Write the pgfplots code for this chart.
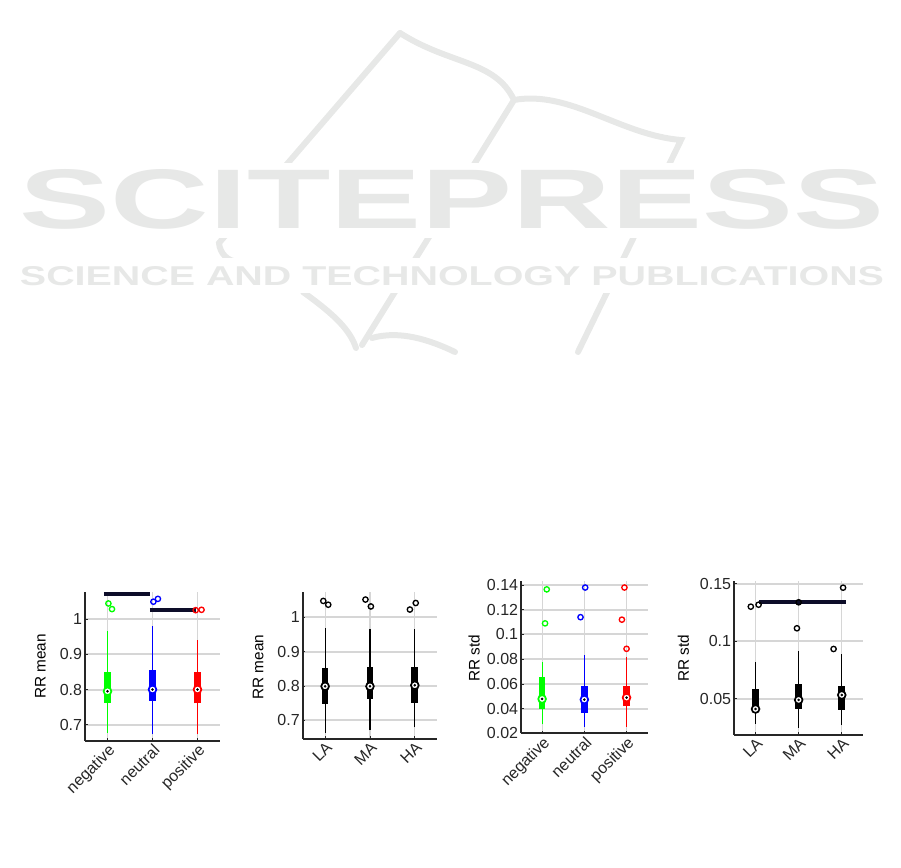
\documentclass[border=0pt]{standalone}
\usepackage{graphicx}
\usepackage{fontspec}
\setmainfont{Liberation Sans}
\usepackage{pgfplots}
\pgfplotsset{compat=1.18}
\definecolor{wm}{rgb}{0.905,0.91,0.905}
\definecolor{sig}{rgb}{0.05,0.05,0.16}
\definecolor{axc}{rgb}{0.15,0.15,0.15}
\definecolor{grd}{rgb}{0.84,0.84,0.84}

% whisker + box
\newcommand{\bx}[6]{%
  \addplot[#1, line width=0.9pt] coordinates {(#2,#3) (#2,#6)};
  \addplot[#1, line width=5pt] coordinates {(#2,#4) (#2,#5)};
}
% median marker
\newcommand{\md}[3]{%
  \addplot[only marks, mark=*, mark size=2.9pt, mark options={fill=white, draw=#1, line width=1.3pt}] coordinates {(#2,#3)};
  \addplot[only marks, mark=*, mark size=0.75pt, black] coordinates {(#2,#3)};
}
\pgfplotsset{
  bp/.style={
    scale only axis,
    anchor=south west,
    clip=false,
    axis lines=left,
    axis line style={-, line width=1.4pt, axc},
    xmin=0.5, xmax=3.5,
    xtick={1,2,3},
    xmajorgrids, ymajorgrids,
    x grid style={grd, line width=0.9pt},
    y grid style={grd, line width=1.5pt},
    tick align=inside,
    major tick length=2pt,
    tick style={axc, line width=0.6pt},
    scaled y ticks=false,
    ticklabel style={font=\fontsize{12pt}{14pt}\selectfont, text=axc},
    xticklabel style={rotate=45, anchor=north east, inner sep=1pt},
    yticklabel style={inner xsep=2pt},
    label style={font=\fontsize{11.5pt}{13pt}\selectfont, text=black},
    /pgf/number format/assume math mode=true,
  }
}
\begin{document}
\begin{tikzpicture}
\useasboundingbox (0,0) rectangle (675.75pt,651pt);
% ---- watermark ----
\begin{scope}[shift={(0pt,651pt)}, x=0.75pt, y=-0.75pt, line width=4.5pt, wm, line cap=round]
  \draw (400,33) -- (219,243) to[bend right=40] (238,262);
  \draw (400,33) .. controls (450,65) and (495,60) .. (514,100)
        .. controls (570,90) and (620,135) .. (681,140) -- (578,352);
  \draw (514,100) -- (362,345);
  \draw (303,292) .. controls (335,315) and (350,330) .. (356,348);
  \draw (372,338) .. controls (400,330) and (430,340) .. (455,352);
  \fill[white] (0,163) rectangle (901,238);
  \fill[white] (0,258) rectangle (901,293);
  \node[inner sep=0pt, text=wm] at (452,199.5) {\resizebox{648pt}{44.25pt}{\bfseries SCITEPRESS}};
  \node[inner sep=0pt, text=wm] at (452,276.5) {\resizebox{648pt}{14.25pt}{\bfseries SCIENCE AND TECHNOLOGY PUBLICATIONS}};
\end{scope}

% ---- Panel 1 ----
\begin{axis}[bp, at={(63.75pt,95.25pt)}, width=101.25pt, height=111.75pt,
  ymin=0.654, ymax=1.0765,
  ytick={0.7,0.8,0.9,1}, yticklabels={0.7,0.8,0.9,1},
  xticklabels={negative,neutral,positive},
  ylabel={RR mean},
  ylabel style={at={(axis description cs:-0.33,0.5)}, anchor=center, rotate=0}]
  \bx{green}{1}{0.677}{0.763}{0.849}{0.966}
  \bx{blue}{2}{0.673}{0.768}{0.856}{0.980}
  \bx{red}{3}{0.673}{0.761}{0.850}{0.940}
  \md{green}{1}{0.795}
  \md{blue}{2}{0.800}
  \md{red}{3}{0.800}
  \addplot[only marks, mark=o, mark size=2pt, green, line width=1pt] coordinates {(1.02,1.044) (1.10,1.028)};
  \addplot[only marks, mark=o, mark size=2pt, blue, line width=1pt] coordinates {(2.02,1.049) (2.12,1.057)};
  \addplot[only marks, mark=o, mark size=2pt, red, line width=1pt] coordinates {(2.96,1.025) (3.09,1.026)};
  \addplot[sig, line width=2.8pt] coordinates {(0.92,1.071) (1.94,1.071)};
  \addplot[sig, line width=2.8pt] coordinates {(1.94,1.025) (2.96,1.025)};
\end{axis}

% ---- Panel 2 ----
\begin{axis}[bp, at={(227pt,96.75pt)}, width=100.95pt, height=110pt,
  ymin=0.646, ymax=1.072,
  ytick={0.7,0.8,0.9,1}, yticklabels={0.7,0.8,0.9,1},
  xticklabels={LA,MA,HA},
  ylabel={RR mean},
  ylabel style={at={(axis description cs:-0.33,0.49)}, anchor=center, rotate=0}]
  \bx{black}{1}{0.663}{0.748}{0.851}{0.968}
  \bx{black}{2}{0.672}{0.763}{0.855}{0.965}
  \bx{black}{3}{0.680}{0.751}{0.855}{0.965}
  \md{black}{1}{0.799}
  \md{black}{2}{0.799}
  \md{black}{3}{0.802}
  \addplot[only marks, mark=o, mark size=2pt, black, line width=1pt] coordinates {(0.96,1.047) (1.07,1.036) (1.90,1.051) (2.02,1.031) (2.89,1.022) (3.02,1.041)};
\end{axis}

% ---- Panel 3 ----
\begin{axis}[bp, at={(390.75pt,101pt)}, width=95pt, height=114.45pt,
  ymin=0.02, ymax=0.1435,
  ytick={0.02,0.04,0.06,0.08,0.1,0.12,0.14},
  yticklabels={0.02,0.04,0.06,0.08,0.1,0.12,0.14},
  xticklabels={negative,neutral,positive},
  ylabel={RR std},
  ylabel style={at={(axis description cs:-0.37,0.49)}, anchor=center, rotate=0}]
  \bx{green}{1}{0.0273}{0.0400}{0.0654}{0.0776}
  \bx{blue}{2}{0.0254}{0.0367}{0.0584}{0.0835}
  \bx{red}{3}{0.0254}{0.0421}{0.0584}{0.0817}
  \md{green}{1}{0.0478}
  \md{blue}{2}{0.0473}
  \md{red}{3}{0.0489}
  \addplot[only marks, mark=o, mark size=2pt, green, line width=1pt] coordinates {(1.11,0.1365) (1.07,0.109)};
  \addplot[only marks, mark=o, mark size=2pt, blue, line width=1pt] coordinates {(2.02,0.138) (1.91,0.114)};
  \addplot[only marks, mark=o, mark size=2pt, red, line width=1pt] coordinates {(2.95,0.138) (2.89,0.112) (3.0,0.0884)};
\end{axis}

% ---- Panel 4 ----
\begin{axis}[bp, at={(550.5pt,100pt)}, width=97pt, height=115.5pt,
  ymin=0.0187, ymax=0.1526,
  ytick={0.05,0.1,0.15}, yticklabels={0.05,0.1,0.15},
  xticklabels={LA,MA,HA},
  ylabel={RR std},
  ylabel style={at={(axis description cs:-0.392,0.496)}, anchor=center, rotate=0}]
  \bx{black}{1}{0.0280}{0.0430}{0.0584}{0.0817}
  \bx{black}{2}{0.0248}{0.0413}{0.0625}{0.0915}
  \bx{black}{3}{0.0269}{0.0404}{0.0610}{0.0886}
  \md{black}{1}{0.0410}
  \md{black}{2}{0.0489}
  \md{black}{3}{0.0532}
  \addplot[only marks, mark=o, mark size=2pt, black, line width=1pt] coordinates {(0.89,0.130) (1.07,0.1317) (1.96,0.1112) (2.0,0.1338) (2.81,0.0932) (3.03,0.1465)};
  \addplot[sig, line width=2.8pt] coordinates {(1.09,0.1338) (3.09,0.1338)};
\end{axis}
\end{tikzpicture}
\end{document}
